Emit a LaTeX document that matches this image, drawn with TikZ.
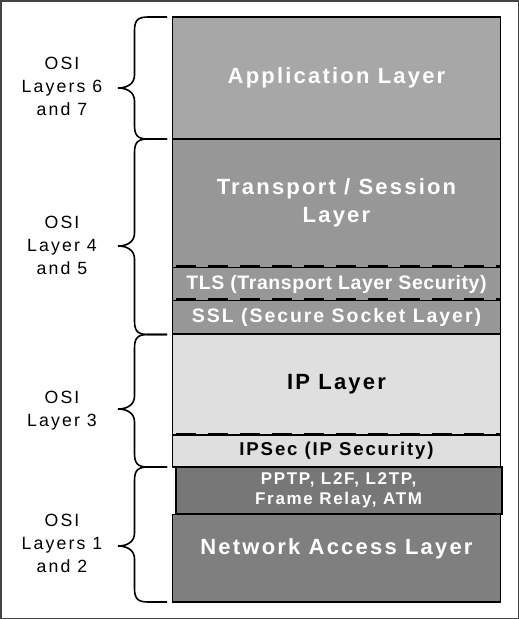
\documentclass[tikz,border=0pt]{standalone}
\usepackage{fontspec}
\usepackage{tikz}
\usetikzlibrary{positioning}
\setmainfont{Liberation Sans}
\newfontfamily\layerfont[LetterSpace=10]{Liberation Sans}
\newfontfamily\tlsfont[LetterSpace=3]{Liberation Sans}
\newfontfamily\osifont[LetterSpace=12]{Liberation Sans}
\definecolor{appgray}{HTML}{A7A7A7}
\definecolor{transgray}{HTML}{979797}
\definecolor{ipgray}{HTML}{DFDFDF}
\definecolor{pptpgray}{HTML}{777777}
\definecolor{netgray}{HTML}{7F7F7F}
\definecolor{framegray}{HTML}{444444}
\newcommand{\osibrace}[3]{%
  \draw[brace] (167,#1) -- (148,#1) .. controls (137,#1) and (134.5,#1+4) .. (134.5,#1+14)
    -- (134.5,#2-13) .. controls (134.5,#2-4) and (127,#2) .. (118,#2)
    .. controls (127,#2) and (134.5,#2+4) .. (134.5,#2+13)
    -- (134.5,#3-14) .. controls (134.5,#3-4) and (137,#3) .. (148,#3) -- (167,#3);}

\begin{document}
\begin{tikzpicture}[x=1pt,y=-1pt,
  layer/.style={draw,line width=1.5pt,minimum width=328pt,inner sep=0pt,align=center,
    text=white,font=\layerfont\bfseries\fontsize{22}{28}\selectfont},
  thin layer/.style={layer,font=\layerfont\bfseries\fontsize{19.5}{23}\selectfont},
  osi/.style={align=center,inner sep=0pt,font=\osifont\fontsize{17.7}{23}\selectfont},
  brace/.style={line width=1.6pt},
  split/.style={line width=2.6pt,dash pattern=on 20pt off 12pt,dash phase=-4pt}]
  \useasboundingbox (0,0) rectangle (519,619);
  \draw[framegray,line width=1.5pt] (0.75,0.75) rectangle (518.25,618.25);

  \node[layer,fill=appgray,minimum height=122pt] (app) at (336.5,78) {Application Layer};
  \node[layer,fill=transgray,minimum height=128.5pt] (trans) at (336.5,203.25) {Transport / Session\\Layer};
  \node[thin layer,fill=transgray,minimum height=33pt,font=\tlsfont\bfseries\fontsize{19.5}{23}\selectfont] (tls) at (336.5,284) {TLS (Transport Layer Security)};
  \node[thin layer,fill=transgray,minimum height=33.5pt] (ssl) at (336.5,317.25) {SSL (Secure Socket Layer)};
  \node[layer,fill=ipgray,minimum height=101pt,text=black] (ip) at (336.5,384.5) {IP Layer};
  \node[layer,fill=ipgray,minimum height=32pt,text=black,font=\layerfont\bfseries\fontsize{18.6}{22}\selectfont] (ipsec) at (336.5,451) {IPSec (IP Security)};
  \node[layer,fill=netgray,minimum height=87.5pt] (net) at (336.5,558.25) {};
  \node[text=white,font=\layerfont\bfseries\fontsize{22}{28}\selectfont,inner sep=0pt] (nettext) at (336.5,549) {Network Access Layer};
  \node[layer,fill=pptpgray,line width=2pt,minimum width=326pt,minimum height=47pt,font=\layerfont\bfseries\fontsize{17}{20}\selectfont] (pptp) at (338.6,490.75) {PPTP, L2F, L2TP,\\Frame Relay, ATM};

  % dashed splits
  \draw[split] (tls.north west) -- (tls.north east);
  \draw[split] (ssl.north west) -- (ssl.north east);
  \draw[split] (ipsec.north west) -- (ipsec.north east);

  \osibrace{17}{88}{139}
  \osibrace{139}{246}{334.5}
  \osibrace{334.5}{409}{467}
  \osibrace{467}{546}{602}

  \node[osi] (osi67) at (62,86) {OSI\\Layers 6\\and 7};
  \node[osi] (osi45) at (62,245) {OSI\\Layer 4\\and 5};
  \node[osi] (osi3) at (62,410.5) {OSI\\Layer 3};
  \node[osi] (osi12) at (62,543) {OSI\\Layers 1\\and 2};
\end{tikzpicture}
\end{document}
